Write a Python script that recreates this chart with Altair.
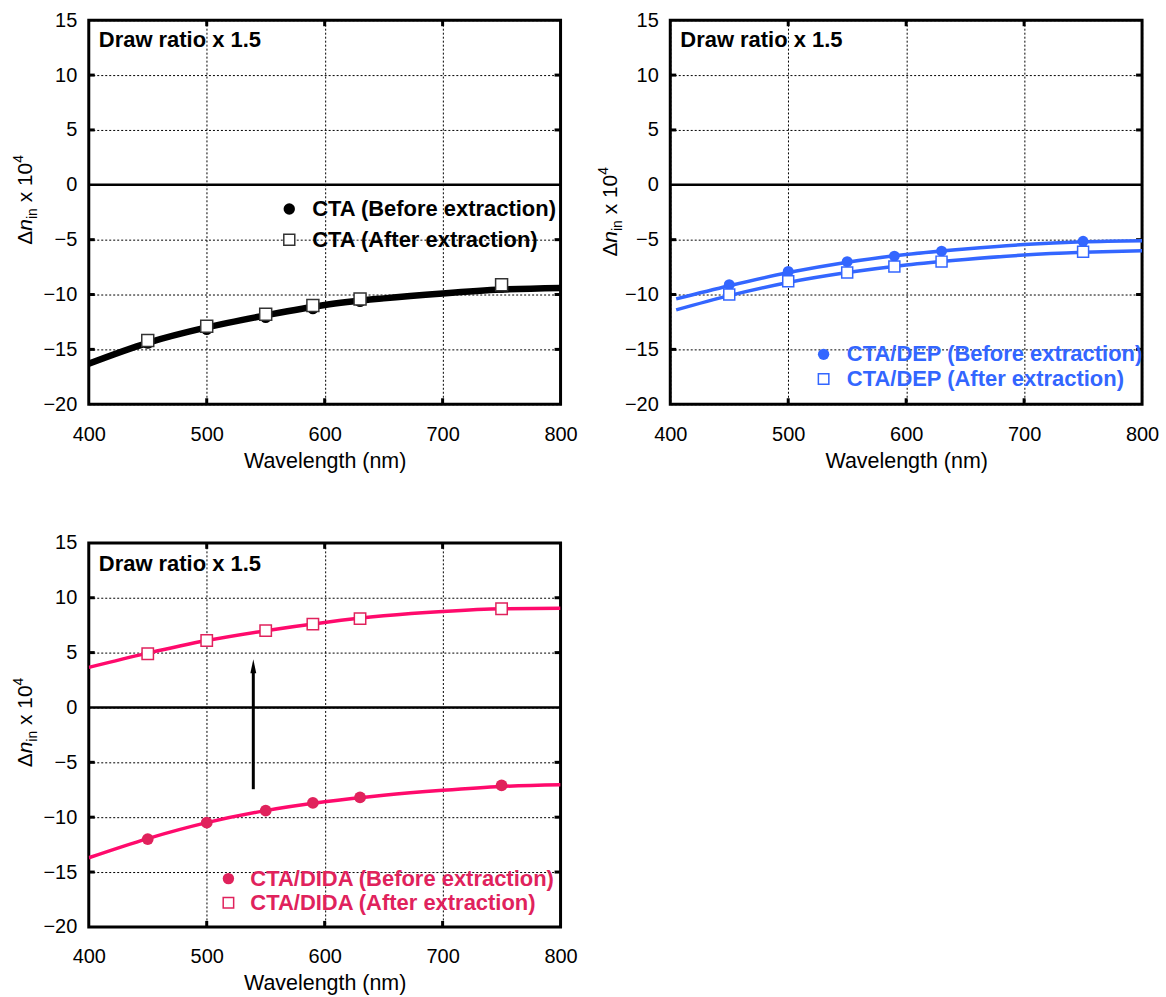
import altair as alt
import pandas as pd

# ---------------- data ----------------
wl_fit = [400, 450, 500, 550, 600, 650, 700, 750, 800]
wl_fit_dep = [405, 450, 500, 550, 600, 650, 700, 750, 800]
wl_pts = [450, 500, 550, 590, 630, 750]

cta_fit = [-16.3, -14.4, -13.0, -11.9, -10.95, -10.35, -9.9, -9.55, -9.4]
cta_before = [-14.45, -13.2, -12.1, -11.3, -10.65, -9.35]
cta_after = [-14.2, -12.9, -11.8, -11.0, -10.4, -9.1]

dep_before_fit = [-10.4, -9.2, -8.0, -7.05, -6.35, -5.85, -5.45, -5.2, -5.1]
dep_after_fit = [-11.4, -10.1, -8.9, -8.0, -7.3, -6.8, -6.4, -6.15, -6.0]
dep_before = [-9.1, -7.9, -7.0, -6.5, -6.05, -5.15]
dep_after = [-10.0, -8.8, -8.0, -7.45, -7.0, -6.1]

dida_before_fit = [-13.7, -11.95, -10.5, -9.4, -8.6, -8.0, -7.55, -7.2, -7.05]
dida_after_fit = [3.65, 4.95, 6.1, 7.0, 7.75, 8.35, 8.75, 9.0, 9.05]
dida_before = [-12.0, -10.5, -9.4, -8.7, -8.2, -7.1]
dida_after = [4.9, 6.1, 7.0, 7.6, 8.1, 9.0]

arrow_x = [539.5]
arrow_from = [-7.45]
arrow_shaft_end = [3.4]
arrow_tip = [4.4]

x_ticks = [400, 500, 600, 700, 800]
y_ticks = [-20, -15, -10, -5, 0, 5, 10, 15]

BLACK = "#000000"
BLUE = "#3366ff"
PINK_LINE = "#ff0a6c"
PINK_MARK = "#e0225c"

W, H = 473, 385
FONT = "Liberation Sans"
BOLD = 22

X = alt.X("x:Q", scale=alt.Scale(domain=[400, 800], nice=False, zero=False),
          axis=alt.Axis(values=x_ticks, title="Wavelength (nm)", labelFlush=False,
                        labelPadding=20, titlePadding=6, format="d"))
Y = alt.Y("y:Q", scale=alt.Scale(domain=[-20, 15], nice=False, zero=False),
          axis=alt.Axis(values=y_ticks, title=None, labelFlush=False, labelPadding=12, format="d"))


def df_xy(xs, ys):
    return pd.DataFrame({"x": xs, "y": ys})


def line(xs, ys, color, width):
    return alt.Chart(df_xy(xs, ys)).mark_line(color=color, strokeWidth=width,
                                              interpolate="monotone", clip=True).encode(x=X, y=Y)


def circles(xs, ys, color, size):
    return alt.Chart(df_xy(xs, ys)).mark_point(shape="circle", filled=True, color=color,
                                               opacity=1, size=size).encode(x=X, y=Y)


def squares(xs, ys, color, size):
    return alt.Chart(df_xy(xs, ys)).mark_point(shape="square", fill="white", fillOpacity=1,
                                               stroke=color, strokeWidth=1.5, opacity=1,
                                               size=size).encode(x=X, y=Y)


def label(x, y, text, color, size=BOLD):
    return alt.Chart(pd.DataFrame({"x": [x], "y": [y], "t": [text]})).mark_text(
        font=FONT, fontSize=size, fontWeight="bold", color=color, align="left",
        baseline="middle").encode(x=X, y=Y, text="t:N")


def frame_layers():
    grid_x = pd.DataFrame({"x": [500, 600, 700]})
    grid_y = pd.DataFrame({"y": [-15, -10, -5, 5, 10]})
    return [
        alt.Chart(grid_x).mark_rule(color="black", strokeWidth=3).encode(
            x=X, y=alt.value(H - 6), y2=alt.value(H)),
        alt.Chart(grid_x).mark_rule(color="black", strokeWidth=3).encode(
            x=X, y=alt.value(0), y2=alt.value(6)),
        alt.Chart(grid_y).mark_rule(color="black", strokeWidth=3).encode(
            y=Y, x=alt.value(0), x2=alt.value(6)),
        alt.Chart(grid_y).mark_rule(color="black", strokeWidth=3).encode(
            y=Y, x=alt.value(W - 6), x2=alt.value(W)),
        alt.Chart(pd.DataFrame({"y": [0]})).mark_rule(color="black", strokeWidth=2.5).encode(y=Y),
    ]


def ytitle(bx, by):
    fs, fss = 21, 14
    pieces = [
        ("\u0394", 0, fs, "normal", 14.0),
        ("n", 0, fs, "italic", 11.7),
        ("in", 5, fss, "normal", 10.9 + 5.8),
        ("x 10", 0, fs, "normal", 39.7),
        ("4", -9, fss, "normal", 8.0),
    ]
    out = []
    y = by
    for t, dx, size, style, w in pieces:
        out.append(alt.Chart(pd.DataFrame({"t": [t]})).mark_text(
            font=FONT, fontSize=size, fontStyle=style, angle=270, align="left",
            baseline="alphabetic", color="black").encode(
            x=alt.value(bx + dx), y=alt.value(y), text="t:N"))
        y -= w
    return out


# ---------------- panel 1: CTA ----------------
p1 = alt.layer(
    *frame_layers(),
    line(wl_fit, cta_fit, BLACK, 6.5),
    circles(wl_pts, cta_before, BLACK, 120),
    squares(wl_pts, cta_after, "#333333", 144),
    label(408.5, 13.2, "Draw ratio x 1.5", BLACK),
    circles([570], [-2.2], BLACK, 130),
    squares([570], [-5.0], "#333333", 121),
    label(589.4, -2.2, "CTA (Before extraction)", BLACK),
    label(589.4, -5.0, "CTA (After extraction)", BLACK),
    *ytitle(-57, 225),
).properties(width=W, height=H)

# ---------------- panel 2: CTA/DEP ----------------
p2 = alt.layer(
    *frame_layers(),
    line(wl_fit_dep, dep_before_fit, BLUE, 3.5),
    line(wl_fit_dep, dep_after_fit, BLUE, 3.5),
    circles(wl_pts, dep_before, BLUE, 120),
    squares(wl_pts, dep_after, BLUE, 121),
    label(408.5, 13.2, "Draw ratio x 1.5", BLACK),
    circles([530], [-15.45], BLUE, 130),
    squares([530], [-17.7], BLUE, 110),
    label(549.7, -15.45, "CTA/DEP (Before extraction)", BLUE),
    label(549.7, -17.7, "CTA/DEP (After extraction)", BLUE),
    *ytitle(-53, 237),
).properties(width=W, height=H)

# ---------------- panel 3: CTA/DIDA ----------------
shaft_df = pd.DataFrame({"x": arrow_x, "y": arrow_from, "y2": arrow_shaft_end})
tip_df = pd.DataFrame({"x": arrow_x, "y": arrow_tip})
p3 = alt.layer(
    *frame_layers(),
    line(wl_fit, dida_before_fit, PINK_LINE, 3.5),
    line(wl_fit, dida_after_fit, PINK_LINE, 3.5),
    circles(wl_pts, dida_before, PINK_MARK, 140),
    squares(wl_pts, dida_after, PINK_MARK, 130),
    alt.Chart(shaft_df).mark_rule(color="black", strokeWidth=3).encode(
        x=X, y=Y, y2="y2:Q"),
    alt.Chart(tip_df).mark_point(
        shape="M0,-1L0.42,1L-0.42,1Z", filled=True, color="black", opacity=1, size=196,
        yOffset=7).encode(x=X, y=Y),
    label(408.5, 13.1, "Draw ratio x 1.5", BLACK),
    circles([518.4], [-15.6], PINK_MARK, 130),
    squares([518.4], [-17.8], PINK_MARK, 110),
    label(537, -15.6, "CTA/DIDA (Before extraction)", PINK_MARK),
    label(537, -17.8, "CTA/DIDA (After extraction)", PINK_MARK),
    *ytitle(-57, 225),
).properties(width=W, height=H)

chart = alt.vconcat(
    alt.hconcat(p1, p2, spacing=16),
    p3,
    spacing=58,
).properties(
    padding={"left": 10, "top": 7, "right": 5, "bottom": 0},
    background="white",
).configure_view(
    stroke="black", strokeWidth=3
).configure_axis(
    labelFont=FONT, labelFontSize=20, labelColor="black",
    titleFont=FONT, titleFontSize=21.5, titleFontWeight="normal", titleColor="black",
    ticks=False, domain=False,
    grid=True, gridColor="black", gridDash=[2, 2], gridWidth=1, gridOpacity=1,
)

chart.save("out.html", embed_options={"renderer": "svg", "actions": False})
